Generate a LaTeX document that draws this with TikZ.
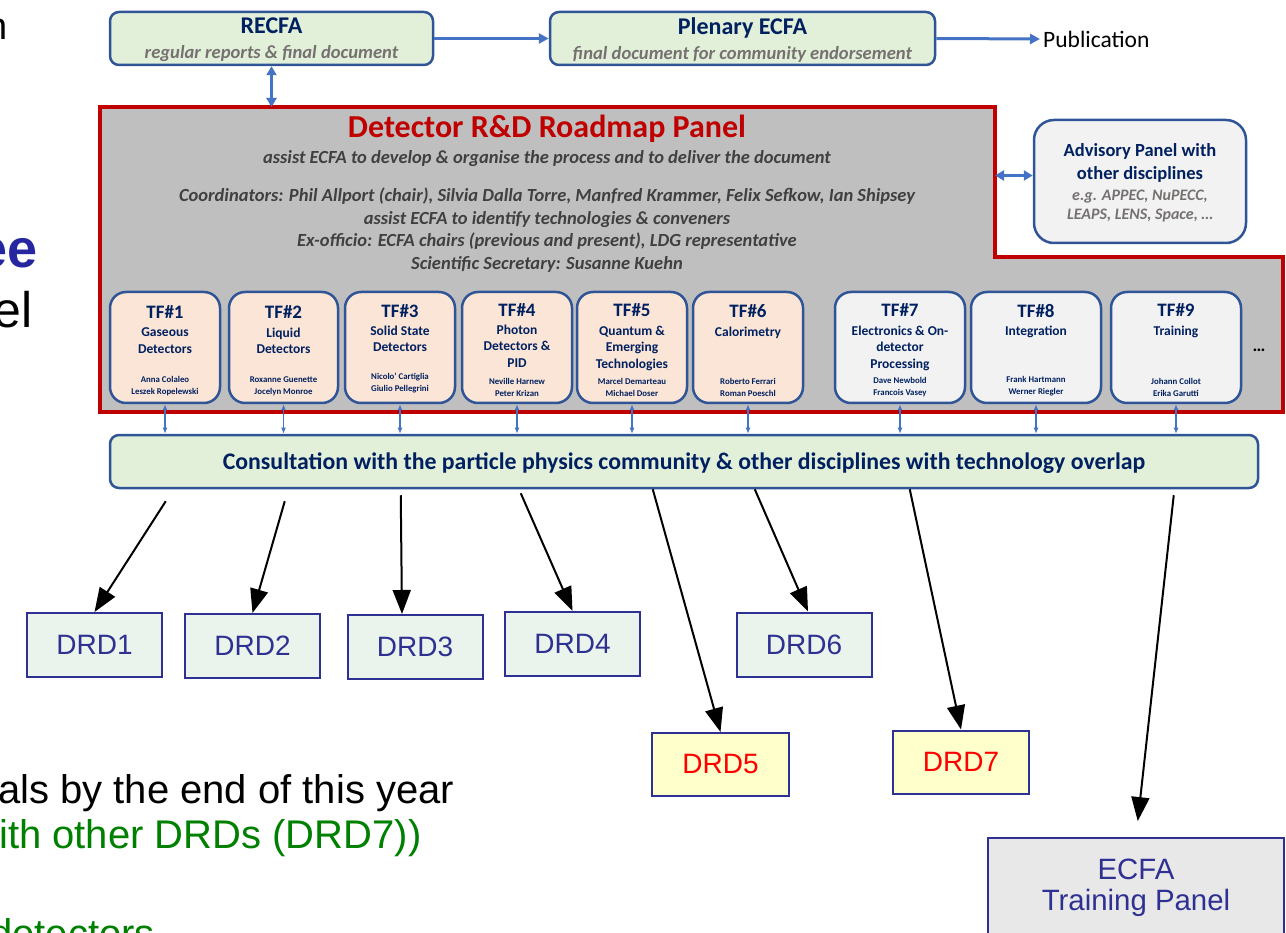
\documentclass[tikz,border=0pt]{standalone}
\usepackage{fontspec}
\setmainfont{Carlito}
\newfontfamily\arialfont{Liberation Sans}
\usetikzlibrary{arrows.meta}

\definecolor{navy}{RGB}{0,32,96}
\definecolor{boxblue}{RGB}{47,85,151}
\definecolor{arrowblue}{RGB}{68,114,196}
\definecolor{lightgreen}{RGB}{226,240,217}
\definecolor{panelgray}{RGB}{191,191,191}
\definecolor{panelred}{RGB}{192,0,0}
\definecolor{salmon}{RGB}{251,229,214}
\definecolor{lightgray}{RGB}{242,242,242}
\definecolor{subgray}{RGB}{118,113,113}
\definecolor{darkgray}{RGB}{64,64,64}
\definecolor{drdblue}{RGB}{46,49,146}
\definecolor{drdgreen}{RGB}{234,244,236}
\definecolor{drdyellow}{RGB}{255,255,204}
\definecolor{trainingray}{RGB}{232,232,232}
\definecolor{slideblue}{RGB}{38,38,160}
\definecolor{slidegreen}{RGB}{0,128,0}

\begin{document}
\begin{tikzpicture}[
            x=1pt, y=-1pt,
            top box/.style={draw=boxblue, fill=lightgreen, line width=2.5pt, rounded corners=9pt, minimum height=53pt, align=center, text depth=0pt},
            tf box/.style={draw=boxblue, line width=2.5pt, rounded corners=16pt, minimum height=111pt},
            tf title/.style={anchor=north, inner sep=0pt, text=navy, font=\bfseries\fontsize{19}{19}\selectfont},
            tf sub/.style={anchor=north, inner sep=0pt, text=navy, align=center, font=\bfseries\fontsize{13.5}{16.5}\selectfont},
            tf names/.style={anchor=south, inner sep=0pt, text=navy, align=center, font=\bfseries\fontsize{8.8}{12.5}\selectfont},
            panel text/.style={inner sep=0pt, text=darkgray, align=center, font=\bfseries\itshape\fontsize{18.5}{22.7}\selectfont},
            drd box/.style={draw=drdblue, fill=drdgreen, line width=2pt, minimum width=135pt, minimum height=64pt, text=drdblue, font=\arialfont\fontsize{28}{28}\selectfont},
            slide text/.style={inner sep=0pt, font=\arialfont\fontsize{40}{40}\selectfont},
            link/.style={arrowblue, line width=1.5pt, {Latex[length=6pt,width=5pt]}-{Latex[length=6pt,width=5pt]}},
            big link/.style={arrowblue, line width=3pt, {Triangle[length=9pt,width=10pt]}-{Triangle[length=9pt,width=10pt]}},
            big arrow/.style={arrowblue, line width=3pt, -{Triangle[length=10pt,width=10pt]}},
            down/.style={black, line width=2pt, -{Triangle[length=24pt,width=18pt]}},
            ]
            \useasboundingbox (0,0) rectangle (1286,933);
            \clip (0,0) rectangle (1286,933);

            % slide text cut at the left edge
            \node[slide text, anchor=base east, font=\arialfont\fontsize{38}{38}\selectfont] (frag1) at (8,40) {n};
            \node[slide text, anchor=base east, text=slideblue, font=\arialfont\bfseries\fontsize{54}{54}\selectfont] (frag2) at (38,268) {ee};
            \node[slide text, anchor=base east, font=\arialfont\fontsize{50}{50}\selectfont] (frag3) at (33,328) {el};
            \node[slide text, anchor=base west] (frag4) at (-2,803) {als by the end of this year};
            \node[slide text, anchor=base west, text=slidegreen] (frag5) at (-1,848) {ith other DRDs (DRD7))};
            \node[slide text, anchor=base west, text=slidegreen] (frag6) at (-10,947) {detectors};

            % top row
            \node[top box, minimum width=323pt, font=\fontsize{18.6}{25}\selectfont] (recfa) at (271.5,38.5)
                {{\fontsize{24}{24}\selectfont\bfseries\color{navy}RECFA}\\{\bfseries\itshape\color{subgray}regular reports \& final document}};
            \node[top box, minimum width=385pt, font=\fontsize{18.6}{25}\selectfont] (plenary) at (742.5,38.5)
                {{\fontsize{24}{24}\selectfont\bfseries\color{navy}Plenary ECFA}\\{\bfseries\itshape\color{subgray}final document for community endorsement}};
            \node[anchor=west, inner sep=3pt, font=\fontsize{23.5}{23.5}\selectfont] (pub) at (1040,39) {Publication};

            % roadmap panel
            \draw[panelred, fill=panelgray, line width=3.5pt]
                (100,107) coordinate (panel nw) -- (995,107) coordinate (panel ne) -- (995,257)
                -- (1283,257) -- (1283,412) -- (100,412) -- cycle;
            \node[inner sep=0pt, text=panelred, font=\bfseries\fontsize{32}{32}\selectfont] (title) at (547,129) {Detector R\&D Roadmap Panel};
            \node[panel text] (remit) at (547,159) {assist ECFA to develop \& organise the process and to deliver the document};
            \node[panel text] (coord) at (547,230)
                {Coordinators: Phil Allport (chair), Silvia Dalla Torre, Manfred Krammer, Felix Sefkow, Ian Shipsey\\
                 assist ECFA to identify technologies \& conveners\\
                 Ex-officio: ECFA chairs (previous and present), LDG representative\\
                 Scientific Secretary: Susanne Kuehn};

            \node[draw=boxblue, fill=lightgray, line width=2.5pt, rounded corners=20pt, minimum width=212pt, minimum height=123pt,
                  align=center, text depth=0pt, font=\itshape\bfseries\fontsize{16}{19}\selectfont, text=subgray] (advisory) at (1140,181.5)
                {{\fontsize{18.5}{18.5}\selectfont\upshape\color{navy}Advisory Panel with}\\[4pt]
                 {\fontsize{18.5}{18.5}\selectfont\upshape\color{navy}other disciplines}\\[2pt]
                 e.g. APPEC, NuPECC,\\ LEAPS, LENS, Space, …};

            % task forces
            \node[tf box, fill=salmon, minimum width=110pt] (tf1) at (165,347.5) {};
            \node[tf box, fill=salmon, minimum width=109pt] (tf2) at (283.5,347.5) {};
            \node[tf box, fill=salmon, minimum width=110pt] (tf3) at (400,347.5) {};
            \node[tf box, fill=salmon, minimum width=110pt] (tf4) at (517,347.5) {};
            \node[tf box, fill=salmon, minimum width=110pt] (tf5) at (632,347.5) {};
            \node[tf box, fill=salmon, minimum width=110pt] (tf6) at (748,347.5) {};
            \node[tf box, fill=lightgray, minimum width=130pt] (tf7) at (900,347.5) {};
            \node[tf box, fill=lightgray, minimum width=130pt] (tf8) at (1036,347.5) {};
            \node[tf box, fill=lightgray, minimum width=130pt] (tf9) at (1176,347.5) {};

            \node[tf title] at ([yshift=-15pt]tf1.north) {TF\#1};
            \node[tf title] at ([yshift=-15pt]tf2.north) {TF\#2};
            \node[tf title] at ([yshift=-14pt]tf3.north) {TF\#3};
            \node[tf title] at ([yshift=-13pt]tf4.north) {TF\#4};
            \node[tf title] at ([yshift=-13pt]tf5.north) {TF\#5};
            \node[tf title] at ([yshift=-14pt]tf6.north) {TF\#6};
            \node[tf title] at ([yshift=-13pt]tf7.north) {TF\#7};
            \node[tf title] at ([yshift=-13pt]tf8.north) {TF\#8};
            \node[tf title] at ([yshift=-13pt]tf9.north) {TF\#9};

            \node[tf sub] at ([yshift=-37pt]tf1.north) {Gaseous\\Detectors};
            \node[tf sub] at ([yshift=-37pt]tf2.north) {Liquid\\Detectors};
            \node[tf sub] at ([yshift=-35pt]tf3.north) {Solid State\\Detectors};
            \node[tf sub] at ([yshift=-34pt]tf4.north) {Photon\\Detectors \&\\PID};
            \node[tf sub] at ([yshift=-35pt]tf5.north) {Quantum \&\\Emerging\\Technologies};
            \node[tf sub] at ([yshift=-36pt]tf6.north) {Calorimetry};
            \node[tf sub] at ([yshift=-35pt]tf7.north) {Electronics \& On-\\detector\\Processing};
            \node[tf sub] at ([yshift=-35pt]tf8.north) {Integration};
            \node[tf sub] at ([yshift=-35pt]tf9.north) {Training};

            \node[tf names] at ([yshift=8pt]tf1.south) {Anna Colaleo\\Leszek Ropelewski};
            \node[tf names] at ([yshift=8pt]tf2.south) {Roxanne Guenette\\Jocelyn Monroe};
            \node[tf names] at ([yshift=11pt]tf3.south) {Nicolo' Cartiglia\\Giulio Pellegrini};
            \node[tf names] at ([yshift=7pt]tf4.south) {Neville Harnew\\Peter Krizan};
            \node[tf names] at ([yshift=7pt]tf5.south) {Marcel Demarteau\\Michael Doser};
            \node[tf names] at ([yshift=7pt]tf6.south) {Roberto Ferrari\\Roman Poeschl};
            \node[tf names] at ([yshift=7pt]tf7.south) {Dave Newbold\\Francois Vasey};
            \node[tf names] at ([yshift=8pt]tf8.south) {Frank Hartmann\\Werner Riegler};
            \node[tf names] at ([yshift=7pt]tf9.south) {Johann Collot\\Erika Garutti};
            \node[inner sep=0pt, font=\bfseries\fontsize{18}{18}\selectfont] (more) at (1259,350) {…};

            % consultation
            \node[top box, minimum width=1148pt, text=navy, font=\bfseries\fontsize{23.8}{23.8}\selectfont] (cons) at (684,461.5)
                {Consultation with the particle physics community \& other disciplines with technology overlap};

            % DRDs
            \node[drd box] (drd1) at (94.5,645) {DRD1};
            \node[drd box] (drd2) at (252.5,646) {DRD2};
            \node[drd box] (drd3) at (415,647) {DRD3};
            \node[drd box] (drd4) at (572.5,644) {DRD4};
            \node[drd box] (drd6) at (804,644.5) {DRD6};
            \node[drd box, fill=drdyellow, text=red, minimum width=137pt, minimum height=63pt] (drd5) at (720.5,764.5) {DRD5};
            \node[drd box, fill=drdyellow, text=red, minimum width=136pt, minimum height=63pt] (drd7) at (961,762) {DRD7};
            \node[draw=drdblue, fill=trainingray, line width=2pt, minimum width=296pt, minimum height=100pt, align=center,
                  text=drdblue, font=\arialfont\fontsize{29.4}{31}\selectfont] (training) at (1136,888) {ECFA\\Training Panel};

            % connectors
            \draw[big arrow] (recfa.east) -- (plenary.west);
            \draw[big arrow] (plenary.east) -- (pub.west);
            \draw[big link] (recfa.south) -- (recfa.south |- panel nw);
            \draw[big link] ([yshift=6pt]advisory.west) -- ([yshift=6pt]advisory.west -| panel ne);

            \draw[link] (tf1.south) -- (tf1.south |- cons.north);
            \draw[link] (tf2.south) -- (tf2.south |- cons.north);
            \draw[link] (tf3.south) -- (tf3.south |- cons.north);
            \draw[link] (tf4.south) -- (tf4.south |- cons.north);
            \draw[link] (tf5.south) -- (tf5.south |- cons.north);
            \draw[link] (tf6.south) -- (tf6.south |- cons.north);
            \draw[link] (tf7.south) -- (tf7.south |- cons.north);
            \draw[link] (tf8.south) -- (tf8.south |- cons.north);
            \draw[link] (tf9.south) -- (tf9.south |- cons.north);

            \draw[down] (cons.south west) ++(57,12) -- (drd1.north);
            \draw[down] (cons.south west) ++(176,12) -- (drd2.north);
            \draw[down] (cons.south west) ++(292,6) -- ([xshift=-13pt]drd3.north);
            \draw[down] (cons.south west) ++(412,4) -- (drd4.north);
            \draw[down] (cons.south west) ++(544,0) -- (drd5.north);
            \draw[down] (cons.south west) ++(646,0) -- ([xshift=4pt]drd6.north);
            \draw[down] (cons.south west) ++(801,0) -- (drd7.north);
            \draw[down, shorten >=16pt] (cons.south west) ++(1065,6) -- (training.north);
        \end{tikzpicture}
\end{document}
